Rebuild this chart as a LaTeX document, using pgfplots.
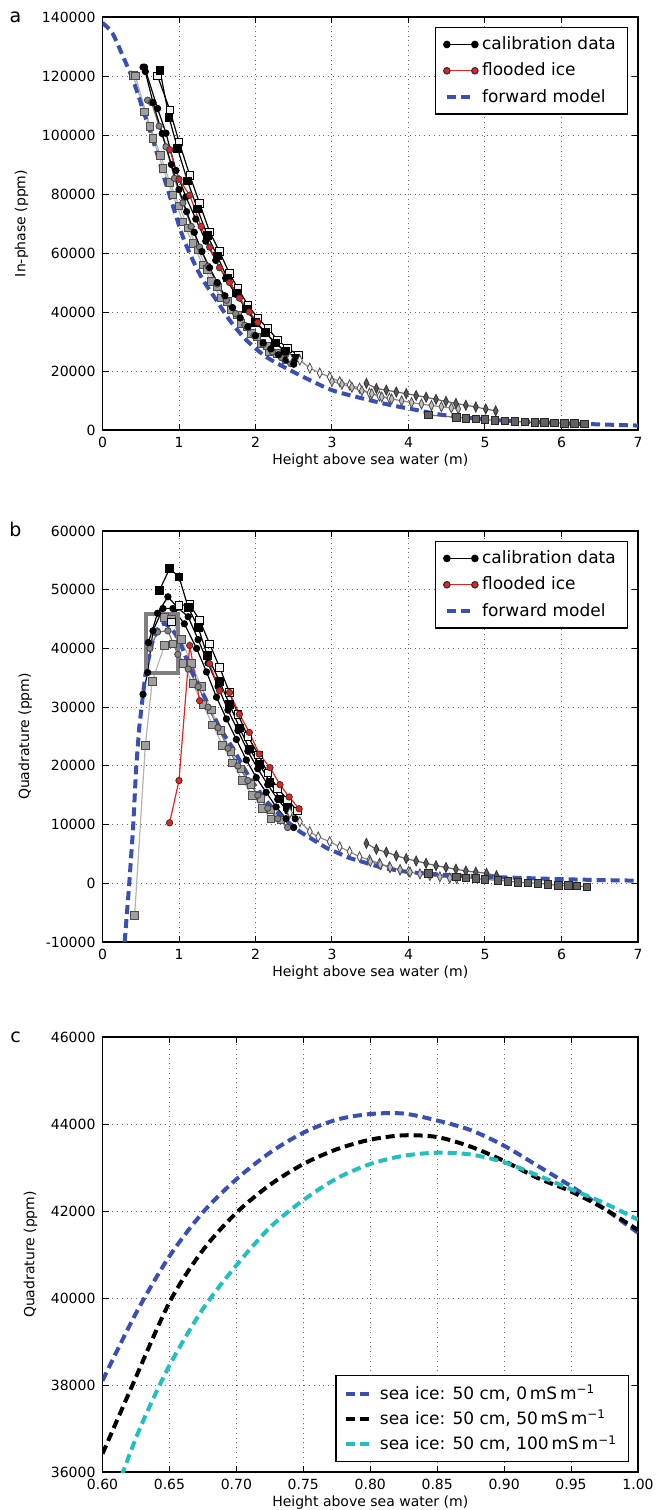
\documentclass[border=0pt]{standalone}
\usepackage{fontspec}
\setmainfont{DejaVu Sans}
\usepackage{pgfplots}
\pgfplotsset{compat=1.18}

\definecolor{fwdblue}{HTML}{3A4FB2}
\definecolor{icecyan}{HTML}{22BFBF}
\definecolor{flood}{HTML}{E8231F}
\definecolor{lgline}{HTML}{B4B4B4}

\pgfplotsset{
  every axis/.append style={
    scale only axis, width=267.75pt, anchor=south west,
    axis line style={line width=0.8pt},
    tick align=inside, major tick length=3pt,
    tick style={black, line width=0.5pt},
    grid=major, major grid style={dotted, black!60, line width=0.5pt},
    scaled ticks=false,
    tick label style={font=\fontsize{7}{8}\selectfont},
    label style={font=\fontsize{7}{8}\selectfont},
    xlabel style={yshift=4pt},
    /pgf/number format/fixed,
    /pgf/number format/1000 sep={},
    /pgf/number format/assume math mode=true,
    legend style={font=\fontsize{8.5}{10}\selectfont, draw=black, line width=0.6pt,
      inner xsep=4pt, inner ysep=2.5pt, row sep=1.2pt, cells={anchor=west}},
    legend image code/.code={\draw[mark repeat=2,mark phase=1,#1]
      plot coordinates {(0pt,0pt) (7pt,0pt) (14pt,0pt)};},
  },
  fwd/.style={color=fwdblue, line width=2pt, dash pattern=on 4.5pt off 2.5pt, no marks},
  blkc/.style={black, line width=0.6pt, mark=*, mark size=1.6pt,
    mark options={solid, fill=black, draw=black, line width=0.4pt}, forget plot},
  blks/.style={black, line width=0.6pt, mark=square*, mark size=1.9pt,
    mark options={solid, fill=black, draw=black, line width=0.4pt}, forget plot},
  whts/.style={black, line width=0.6pt, mark=square*, mark size=1.9pt,
    mark options={solid, fill=black!6, draw=black, line width=0.4pt}, forget plot},
  grys/.style={lgline, line width=0.6pt, mark=square*, mark size=1.9pt,
    mark options={solid, fill=black!38, draw=black!70, line width=0.4pt}, forget plot},
  gryc/.style={black!55, line width=0.6pt, mark=*, mark size=1.6pt,
    mark options={solid, fill=black!48, draw=black!75, line width=0.4pt}, forget plot},
  redc/.style={flood, line width=0.6pt, mark=*, mark size=1.6pt,
    mark options={solid, fill=flood, draw=black!80, line width=0.4pt}, forget plot},
  dkd/.style={black!60, line width=0.6pt, mark=diamond*, mark size=2.5pt,
    mark options={solid, xscale=0.65, fill=black!65, draw=black!80, line width=0.4pt}, forget plot},
  ltd/.style={black!45, line width=0.6pt, mark=diamond*, mark size=2.5pt,
    mark options={solid, xscale=0.65, fill=black!25, draw=black!70, line width=0.4pt}, forget plot},
  whd/.style={black!45, line width=0.6pt, mark=diamond*, mark size=2.5pt,
    mark options={solid, xscale=0.65, fill=black!3, draw=black!70, line width=0.4pt}, forget plot},
  dks/.style={black!55, line width=0.6pt, mark=square*, mark size=1.9pt,
    mark options={solid, fill=black!62, draw=black!85, line width=0.4pt}, forget plot},
}

\begin{document}
\begin{tikzpicture}
\useasboundingbox (0,0) rectangle (333.5pt,-755pt);

% ---------------- panel a ----------------
\begin{axis}[at={(51.25pt,-215pt)}, height=206.5pt,
  xmin=0, xmax=7, ymin=0, ymax=140000, xtick distance=1, ytick distance=20000,
  xlabel={Height above sea water (m)}, ylabel={In-phase (ppm)},
  legend style={at={(0.982,0.976)}, anchor=north east}]
\addplot[grys] coordinates {(0.40,120300)(0.55,107900)(0.66,98900)(0.79,88700)(0.92,79700)(1.05,70600)(1.18,63300)(1.31,56000)(1.42,50300)(1.55,44800)(1.68,40700)(1.81,36200)(1.95,32800)(2.08,29400)(2.18,26500)};
\addplot[grys] coordinates {(0.43,120000)(0.62,103000)(0.76,93000)(0.88,84000)(1.00,76000)(1.12,68500)(1.25,61000)(1.37,54500)(1.50,48500)(1.63,43500)(1.76,39000)(1.89,35000)(2.02,31500)(2.15,28500)(2.28,26000)(2.40,24000)};
\addplot[gryc] coordinates {(0.59,111800)(0.64,111000)(0.74,103000)(0.83,96000)(0.94,85300)(1.05,77000)(1.16,69000)(1.27,62000)(1.38,55500)(1.50,49500)(1.62,44000)(1.74,39500)(1.86,35500)(1.98,32000)(2.10,29000)(2.22,26500)(2.34,24500)(2.46,22500)};
\addplot[blkc] coordinates {(0.53,123000)(0.56,121500)(0.66,111000)(0.78,100500)(0.90,90000)(1.00,81500)(1.10,74000)(1.20,67000)(1.30,60500)(1.40,55000)(1.50,50000)(1.60,45500)(1.70,41500)(1.80,38000)(1.90,35000)(2.00,32000)(2.10,29500)(2.20,27500)(2.30,25500)(2.40,23800)(2.50,22300)};
\addplot[blkc] coordinates {(0.55,123000)(0.72,109000)(0.83,100600)(0.96,88000)(1.09,79000)(1.22,71500)(1.35,64000)(1.48,57500)(1.61,51500)(1.74,46000)(1.87,41500)(2.00,37000)(2.13,33000)(2.26,29500)(2.39,26500)(2.52,24000)};
\addplot[whts] coordinates {(0.72,120000)(0.88,108500)(1.00,97700)(1.14,86400)(1.27,76800)(1.40,67200)(1.53,60500)(1.66,53000)(1.77,48000)(1.90,42400)(2.03,37900)(2.16,34500)(2.29,30500)(2.42,27700)(2.56,25400)};
\addplot[blks] coordinates {(0.75,122000)(0.87,106000)(0.98,95500)(1.11,84500)(1.24,75000)(1.37,66000)(1.50,59000)(1.63,51500)(1.75,46500)(1.88,41000)(2.00,36500)(2.13,33000)(2.26,29500)(2.39,26800)(2.52,24500)};
\addplot[redc] coordinates {(0.88,95000)(1.00,85000)(1.14,79600)(1.29,69000)(1.40,62000)(1.53,55000)(1.66,50000)(1.79,44700)(1.92,40000)(2.03,36500)};
\addplot[whd] coordinates {(2.45,24500)(2.58,23700)(2.71,21000)(2.84,19300)(2.97,18000)(3.10,16400)(3.23,15300)(3.36,14200)(3.49,12500)(3.62,11500)(3.75,10800)};
\addplot[ltd] coordinates {(3.00,16500)(3.13,15500)(3.26,14500)(3.39,13300)(3.52,12300)(3.65,11200)(3.78,10500)(3.91,9900)(4.04,9300)(4.17,8800)(4.30,8300)(4.43,7900)(4.56,7500)(4.65,7200)};
\addplot[dkd] coordinates {(3.45,15800)(3.58,14100)(3.71,13500)(3.84,12900)(3.97,12300)(4.10,11700)(4.23,11100)(4.36,10400)(4.49,9700)(4.62,9000)(4.75,8400)(4.88,7800)(5.01,7100)(5.14,6500)};
\addplot[dks] coordinates {(4.26,5100)(4.63,4300)(4.75,4000)(4.88,3700)(5.00,3500)(5.13,3300)(5.26,3100)(5.39,2900)(5.52,2700)(5.65,2600)(5.78,2500)(5.91,2400)(6.04,2300)(6.17,2200)(6.30,2100)};
\addplot[fwd, smooth, forget plot] coordinates {(0,138000)(0.13,134500)(0.27,126500)(0.40,118600)(0.53,108500)(0.66,98300)(0.80,86000)(0.92,76000)(1.05,65500)(1.18,57600)(1.31,51000)(1.49,44000)(1.66,37300)(1.88,30500)(2.14,24800)(2.45,20300)(2.80,15800)(3.06,13000)(3.67,9000)(4.10,6800)(4.45,5100)(5.00,3600)(5.50,2900)(6.00,2300)(6.50,1900)(7.00,1500)};
\addlegendimage{black, line width=0.6pt, mark=*, mark size=1.6pt, mark options={fill=black}}
\addlegendentry{calibration data}
\addlegendimage{flood, line width=0.6pt, mark=*, mark size=1.6pt, mark options={fill=flood, draw=black!80}}
\addlegendentry{flooded ice}
\addlegendimage{fwd}
\addlegendentry{forward model}
\end{axis}

% ---------------- panel b ----------------
\begin{axis}[at={(51.25pt,-471pt)}, height=205.5pt,
  xmin=0, xmax=7, ymin=-10000, ymax=60000, xtick distance=1, ytick distance=10000,
  xlabel={Height above sea water (m)}, ylabel={Quadrature (ppm)},
  legend style={at={(0.982,0.976)}, anchor=north east}]
\addplot[grys] coordinates {(0.42,-5500)(0.56,23500)(0.65,34400)(0.81,40500)(0.92,40800)(1.05,37500)(1.18,34000)(1.31,30500)(1.44,27000)(1.57,23500)(1.70,20500)(1.83,17500)(1.96,15000)(2.09,12800)(2.20,11000)};
\addplot[grys] coordinates {(0.81,45300)(0.90,45000)(1.03,41500)(1.16,37500)(1.29,33500)(1.42,29500)(1.55,26000)(1.68,22500)(1.81,19500)(1.94,16800)(2.07,14500)(2.20,12500)(2.33,10800)};
\addplot[gryc] coordinates {(0.62,40000)(0.72,42800)(0.855,43000)(0.985,39000)(1.12,36500)(1.25,33500)(1.38,30000)(1.51,26500)(1.64,23000)(1.77,20000)(1.90,17500)(2.03,15000)(2.16,12800)(2.29,11000)(2.42,9500)};
\addplot[blkc] coordinates {(0.53,32200)(0.59,35900)(0.66,43000)(0.79,46800)(0.92,46800)(1.07,44200)(1.23,40000)(1.36,36000)(1.49,31700)(1.62,28000)(1.75,24500)(1.88,21000)(2.01,18000)(2.14,15500)(2.27,13000)(2.40,11000)(2.50,9500)};
\addplot[blkc] coordinates {(0.60,41000)(0.72,46000)(0.855,48800)(0.98,47000)(1.12,45400)(1.25,41500)(1.38,37500)(1.51,33500)(1.64,29500)(1.77,26000)(1.90,22500)(2.03,19500)(2.16,16800)(2.29,14300)(2.42,12300)(2.52,11000)};
\addplot[whts] coordinates {(0.90,44500)(1.00,47300)(1.14,47500)(1.27,44800)(1.40,40800)(1.53,36800)(1.66,32500)(1.77,28800)(1.90,25000)(2.04,21900)(2.16,18800)(2.29,16200)(2.42,14200)(2.55,12300)};
\addplot[blks] coordinates {(0.745,49900)(0.877,53600)(1.00,52200)(1.12,47000)(1.25,43600)(1.37,38800)(1.53,34400)(1.66,30500)(1.79,26500)(1.92,22900)(2.05,20300)(2.19,17200)(2.32,14400)(2.42,13000)};
\addplot[redc] coordinates {(0.877,10300)(1.00,17500)(1.14,40500)(1.27,31100)};
\addplot[redc] coordinates {(1.40,37400)(1.53,32800)(1.66,32500)(1.79,28800)(1.92,25700)(2.05,22000)(2.19,19700)(2.32,16800)(2.44,14700)(2.57,12700)};
\addplot[whd] coordinates {(2.45,12000)(2.58,10500)(2.71,8800)(2.82,7900)(2.97,7100)(3.10,6200)(3.23,5400)(3.36,4500)(3.49,4000)(3.62,3400)(3.75,2800)(3.89,2300)(4.00,2000)};
\addplot[ltd] coordinates {(3.50,3700)(3.63,3200)(3.76,2700)(3.89,2300)(4.02,1900)(4.15,1600)(4.28,1300)(4.41,1100)(4.54,900)(4.63,800)};
\addplot[dkd] coordinates {(3.45,6800)(3.58,5800)(3.71,5300)(3.84,4700)(3.97,4200)(4.10,3800)(4.23,3400)(4.36,3000)(4.49,2700)(4.62,2400)(4.75,2100)(4.88,1900)(5.02,1700)(5.15,1300)};
\addplot[dks] coordinates {(4.26,1700)(4.63,1100)(4.75,950)(4.88,800)(5.00,650)(5.17,500)(5.30,350)(5.43,200)(5.56,100)(5.69,0)(5.82,-150)(5.96,-400)(6.09,-400)(6.20,-450)(6.33,-600)};
\addplot[fwd, forget plot] coordinates {(0.29,-10000)(0.32,-5000)(0.35,0)(0.40,9400)(0.44,19700)(0.48,26500)(0.53,32200)(0.56,35500)(0.60,38100)(0.65,41000)(0.70,42700)(0.75,43900)(0.81,44250)(0.90,43500)(1.00,41500)(1.14,36800)(1.27,33400)(1.40,30000)(1.53,26500)(1.70,23100)(1.92,18000)(2.14,14000)(2.36,11100)(2.58,8800)(2.93,6000)(3.23,4300)(3.67,2600)(4.00,1900)(4.50,1400)(5.00,1100)(5.50,900)(6.00,700)(6.50,550)(7.00,450)};
\draw[black!50, line width=2pt] (axis cs:0.57,35800) rectangle (axis cs:0.99,45800);
\addlegendimage{black, line width=0.6pt, mark=*, mark size=1.6pt, mark options={fill=black}}
\addlegendentry{calibration data}
\addlegendimage{flood, line width=0.6pt, mark=*, mark size=1.6pt, mark options={fill=flood, draw=black!80}}
\addlegendentry{flooded ice}
\addlegendimage{fwd}
\addlegendentry{forward model}
\end{axis}

% ---------------- panel c ----------------
\begin{axis}[at={(51.25pt,-736pt)}, height=217.5pt,
  xmin=0.6, xmax=1.0, ymin=36000, ymax=46000, xtick distance=0.05, ytick distance=2000,
  xticklabel style={/pgf/number format/.cd, fixed, fixed zerofill, precision=2},
  xlabel={Height above sea water (m)}, ylabel={Quadrature (ppm)},
  legend style={at={(0.984,0.022)}, anchor=south east, row sep=0pt}]
\addplot[fwd, smooth] coordinates {(0.600,38100)(0.625,39650)(0.650,40960)(0.675,41970)(0.700,42730)(0.725,43340)(0.750,43800)(0.775,44100)(0.800,44230)(0.825,44240)(0.850,44080)(0.875,43860)(0.900,43500)(0.925,43040)(0.950,42570)(0.975,42050)(1.000,41500)};
\addlegendentry{sea ice: 50 cm, 0\,mS\,m\textsuperscript{−1}}
\addplot[fwd, smooth, color=black] coordinates {(0.600,36420)(0.621,37900)(0.650,39900)(0.675,41100)(0.700,41960)(0.725,42600)(0.750,43080)(0.775,43420)(0.800,43640)(0.825,43740)(0.850,43700)(0.875,43480)(0.900,43150)(0.925,42760)(0.950,42450)(0.975,42050)(1.000,41560)};
\addlegendentry{sea ice: 50 cm, 50\,mS\,m\textsuperscript{−1}}
\addplot[fwd, smooth, color=icecyan] coordinates {(0.600,34700)(0.617,36140)(0.630,37150)(0.650,38450)(0.675,39750)(0.700,40750)(0.725,41620)(0.750,42250)(0.775,42750)(0.800,43080)(0.825,43270)(0.850,43340)(0.875,43300)(0.900,43120)(0.925,42820)(0.950,42500)(0.975,42180)(1.000,41800)};
\addlegendentry{sea ice: 50 cm, 100\,mS\,m\textsuperscript{−1}}
\end{axis}

\node[font=\fontsize{9.5}{11}\selectfont, anchor=base] at (7.75pt,-11pt) {a};
\node[font=\fontsize{9.5}{11}\selectfont, anchor=base] at (7.75pt,-268pt) {b};
\node[font=\fontsize{9.5}{11}\selectfont, anchor=base] at (7.75pt,-521pt) {c};
\end{tikzpicture}
\end{document}
